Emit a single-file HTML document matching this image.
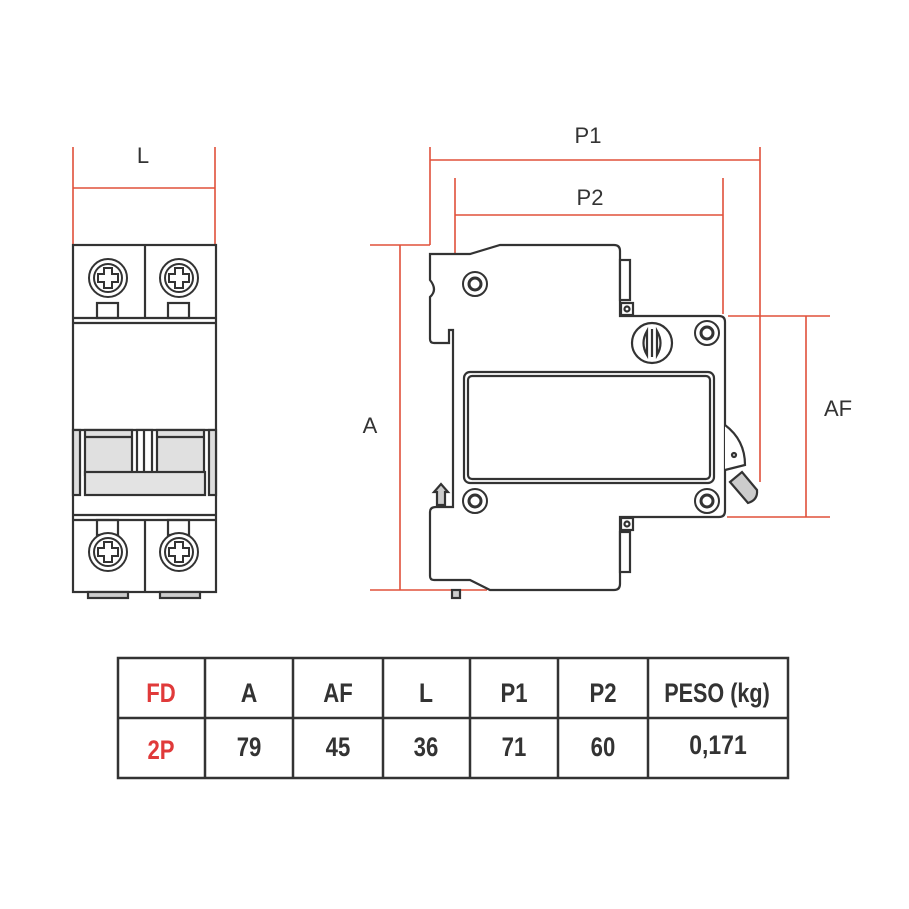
<!DOCTYPE html>
<html><head><meta charset="utf-8"><style>
body{margin:0;background:#fff;width:909px;height:909px;overflow:hidden}
svg{display:block}
text{font-family:"Liberation Sans",sans-serif;fill:#333}
.t{font-weight:bold;font-size:27px}
</style></head><body>
<svg width="909" height="909" viewBox="0 0 909 909">
<g stroke="#e0503a" stroke-width="1.6" fill="none">
<line x1="73" y1="147" x2="73" y2="245"/><line x1="215" y1="147" x2="215" y2="245"/>
<line x1="73" y1="188" x2="215" y2="188"/>
<line x1="430" y1="147" x2="430" y2="245"/><line x1="760" y1="147" x2="760" y2="482"/>
<line x1="430" y1="160" x2="760" y2="160"/>
<line x1="455" y1="178" x2="455" y2="340"/><line x1="723" y1="178" x2="723" y2="314"/>
<line x1="455" y1="215" x2="723" y2="215"/>
<line x1="400" y1="245" x2="400" y2="590"/>
<line x1="370" y1="245" x2="430" y2="245"/><line x1="370" y1="590" x2="487" y2="590"/>
<line x1="806" y1="316" x2="806" y2="517"/>
<line x1="728" y1="316" x2="830" y2="316"/><line x1="727" y1="517" x2="830" y2="517"/>
</g>
<g font-size="22">
<text x="143" y="163" text-anchor="middle">L</text>
<text x="588" y="143" text-anchor="middle">P1</text>
<text x="590" y="205" text-anchor="middle">P2</text>
<text x="370" y="433" text-anchor="middle">A</text>
<text x="838" y="416" text-anchor="middle">AF</text>
</g>
<g stroke="#333" stroke-width="2.2" fill="#fff">
<rect x="73" y="245" width="143" height="347"/>
<line x1="145" y1="245" x2="145" y2="318"/>
<line x1="145" y1="520" x2="145" y2="592"/>
<rect x="97" y="303" width="21" height="15"/><rect x="168" y="303" width="21" height="15"/>
<rect x="97" y="520" width="21" height="15"/><rect x="168" y="520" width="21" height="15"/>
<line x1="73" y1="318" x2="216" y2="318"/><line x1="73" y1="323" x2="216" y2="323"/>
<line x1="73" y1="515" x2="216" y2="515"/><line x1="73" y1="520" x2="216" y2="520"/>
<line x1="73" y1="430" x2="216" y2="430"/>
<rect x="73" y="430" width="7" height="65" fill="#ddd"/><rect x="209" y="430" width="7" height="65" fill="#ddd"/>
<rect x="85" y="430" width="47" height="45" fill="#e0e0e0"/><rect x="157" y="430" width="47" height="45" fill="#e0e0e0"/>
<line x1="85" y1="437" x2="132" y2="437"/><line x1="157" y1="437" x2="204" y2="437"/>
<rect x="137" y="430" width="15" height="45" fill="#fff"/>
<line x1="144" y1="430" x2="144" y2="475"/>
<rect x="85" y="472" width="120" height="23" fill="#e3e3e3"/>
<rect x="88" y="592" width="40" height="6" fill="#ccc"/><rect x="160" y="592" width="40" height="6" fill="#ccc"/>
</g>
<g stroke="#333" stroke-width="2" fill="#fff">
<g id="s"><circle cx="108" cy="278" r="19"/><circle cx="108" cy="278" r="14"/>
<path d="M104 268h8v6h6v8h-6v6h-8v-6h-6v-8h6z" fill="#fff"/></g>
<use href="#s" x="71"/><use href="#s" y="274"/><use href="#s" x="71" y="274"/>
</g>
<g stroke="#333" stroke-width="2.2" fill="#fff">
<path d="M430 254 L470 254 L500 245 L614 245 Q620 245 620 251 L620 316 L719 316 Q725 316 725 322 L725 511 Q725 517 719 517 L620 517 L620 584 Q620 590 614 590 L490 590 L470 580 L434 580 Q430 580 430 576 L430 512 Q430 507 436 507 L453 507 L453 330 L449 330 L449 343 L434 343 Q430 343 430 339 L430 297 Q438 290 430 280 Z"/>
<rect x="620" y="260" width="10" height="40"/><rect x="620" y="532" width="10" height="40"/>
<rect x="621" y="303" width="12" height="12"/><rect x="621" y="518" width="12" height="12"/>
<circle cx="627" cy="309" r="2.5"/><circle cx="627" cy="524" r="2.5"/>
<rect x="464" y="372" width="250" height="111" rx="6"/>
<rect x="468" y="376" width="242" height="103" rx="4"/>
<circle cx="652" cy="343" r="20"/>
<path d="M647 331 Q640 343 647 355 Z M657 331 Q664 343 657 355 Z"/>
<line x1="652" y1="329" x2="652" y2="357"/>
<path d="M725 425 Q745 440 745 465 L725 470"/>
<circle cx="734" cy="455" r="2"/>
<path d="M730 482 L742 472 L757 490 Q758 500 748 503 Z" fill="#ccc"/>
<rect x="452" y="590" width="8" height="8" fill="#ccc"/>
<path d="M437 505 L437 492 L434 492 L441 484 L448 492 L445 492 L445 505 Z" fill="#ccc"/>
</g>
<g stroke="#333" stroke-width="2" fill="#fff">
<g id="b"><circle cx="475" cy="284" r="12"/><circle cx="475" cy="284" r="6" fill="#fff" stroke-width="3"/></g>
<use href="#b" x="232" y="49"/><use href="#b" y="217"/><use href="#b" x="232" y="217"/>
</g>
<g stroke="#333" stroke-width="2.5" fill="none">
<rect x="118" y="658" width="670" height="120"/>
<line x1="118" y1="718" x2="788" y2="718"/>
<line x1="205" y1="658" x2="205" y2="778"/><line x1="293" y1="658" x2="293" y2="778"/>
<line x1="383" y1="658" x2="383" y2="778"/><line x1="470" y1="658" x2="470" y2="778"/>
<line x1="558" y1="658" x2="558" y2="778"/><line x1="648" y1="658" x2="648" y2="778"/>
</g>
<g class="t" text-anchor="middle">
<text x="161" y="702" style="fill:#e03a3a" transform="translate(161 0) scale(0.82 1) translate(-161 0)">FD</text>
<text x="249" y="702" transform="translate(249 0) scale(0.85 1) translate(-249 0)">A</text>
<text x="338" y="702" transform="translate(338 0) scale(0.82 1) translate(-338 0)">AF</text>
<text x="426" y="702" transform="translate(426 0) scale(0.85 1) translate(-426 0)">L</text>
<text x="514" y="702" transform="translate(514 0) scale(0.82 1) translate(-514 0)">P1</text>
<text x="603" y="702" transform="translate(603 0) scale(0.82 1) translate(-603 0)">P2</text>
<text x="717" y="702" transform="translate(717 0) scale(0.8 1) translate(-717 0)">PESO (kg)</text>
<text x="161" y="759" style="fill:#e03a3a" transform="translate(161 0) scale(0.82 1) translate(-161 0)">2P</text>
<text x="249" y="756" transform="translate(249 0) scale(0.82 1) translate(-249 0)">79</text>
<text x="338" y="756" transform="translate(338 0) scale(0.82 1) translate(-338 0)">45</text>
<text x="426" y="756" transform="translate(426 0) scale(0.82 1) translate(-426 0)">36</text>
<text x="514" y="756" transform="translate(514 0) scale(0.82 1) translate(-514 0)">71</text>
<text x="603" y="756" transform="translate(603 0) scale(0.82 1) translate(-603 0)">60</text>
<text x="718" y="754" transform="translate(718 0) scale(0.85 1) translate(-718 0)">0,171</text>
</g>
</svg>
</body></html>
